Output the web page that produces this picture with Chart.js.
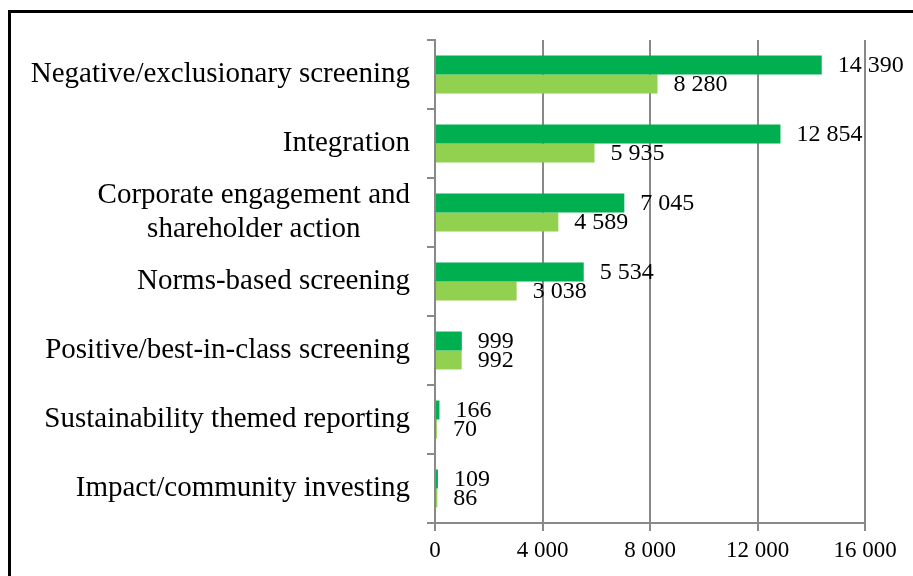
<!DOCTYPE html>
<html>
<head>
<meta charset="utf-8">
<script src="https://cdn.jsdelivr.net/npm/chart.js@4.4.1/dist/chart.umd.min.js"></script>
<style>
  html, body { margin: 0; padding: 0; background: #fff; overflow: hidden; }
  #frame {
    position: absolute; left: 8px; top: 10px;
    width: 1000px; height: 1000px;
    border: 3px solid #000;
    box-sizing: border-box;
  }
  #wrap { position: absolute; left: 0; top: 0; width: 913px; height: 576px; }
</style>
</head>
<body>
<div id="frame"></div>
<div id="wrap"><canvas id="chart" width="913" height="576"></canvas></div>
<script>
// kategoriler (yukaridan asagiya)
var categories = [
    'Negative/exclusionary screening',
    'Integration',
    ['Corporate engagement and', 'shareholder action'],
    'Norms-based screening',
    'Positive/best-in-class screening',
    'Sustainability themed reporting',
    'Impact/community investing'
];
var darkValues = [14390, 12854, 7045, 5534, 999, 166, 109];
var lightValues = [8280, 5935, 4589, 3038, 992, 70, 86];
var xTicks = [0, 4000, 8000, 12000, 16000];

var FONT = "'Liberation Serif', 'Times New Roman', serif";
var GRID = '#898989';

function fmt(v) {
    return String(v).replace(/\B(?=(\d{3})+(?!\d))/g, ' ');
}

// kategori etiketleri - cok satirli etiketler ortali
var catLabels = {
    id: 'catLabels',
    afterDraw: function(chart) {
        var ctx = chart.ctx;
        var scale = chart.scales.y;
        var rightEdge = chart.chartArea.left - 25;
        ctx.save();
        ctx.font = '29px ' + FONT;
        ctx.fillStyle = '#000';
        ctx.textBaseline = 'middle';
        ctx.textAlign = 'center';
        categories.forEach(function(label, i) {
            var lines = Array.isArray(label) ? label : [label];
            var w = 0;
            lines.forEach(function(l) { w = Math.max(w, ctx.measureText(l).width); });
            var cx = rightEdge - w / 2;
            var cy = scale.getPixelForTick(i);
            var lh = 34;
            lines.forEach(function(l, k) {
                ctx.fillText(l, cx, cy + (k - (lines.length - 1) / 2) * lh);
            });
        });
        ctx.restore();
    }
};

// veri etiketleri
var valueLabels = {
    id: 'valueLabels',
    afterDatasetsDraw: function(chart) {
        var ctx = chart.ctx;
        ctx.save();
        ctx.font = '24px ' + FONT;
        ctx.fillStyle = '#000';
        ctx.textAlign = 'left';
        ctx.textBaseline = 'middle';
        chart.data.datasets.forEach(function(ds, di) {
            chart.getDatasetMeta(di).data.forEach(function(el, i) {
                ctx.fillText(fmt(ds.data[i]), el.x + 16, el.y + 1);
            });
        });
        ctx.restore();
    }
};

new Chart(document.getElementById('chart'), {
    type: 'bar',
    data: {
        labels: categories,
        datasets: [
            {
                label: 'dark',
                data: darkValues,
                backgroundColor: '#00B050',
                borderWidth: 0,
                categoryPercentage: 0.55,
                barPercentage: 1
            },
            {
                label: 'light',
                data: lightValues,
                backgroundColor: '#92D050',
                borderWidth: 0,
                categoryPercentage: 0.55,
                barPercentage: 1
            }
        ]
    },
    options: {
        indexAxis: 'y',
        responsive: false,
        animation: false,
        layout: { padding: { left: 0, right: 48, top: 40, bottom: 0 } },
        scales: {
            x: {
                min: 0,
                max: 16000,
                afterBuildTicks: function(s) {
                    s.ticks = xTicks.map(function(v) { return { value: v }; });
                },
                afterFit: function(s) { s.height = 53; },
                grid: {
                    color: GRID,
                    lineWidth: 2,
                    tickLength: 8,
                    tickColor: GRID
                },
                border: { color: GRID, width: 2 },
                ticks: {
                    color: '#000',
                    font: { family: FONT, size: 23 },
                    padding: 6,
                    maxRotation: 0,
                    callback: function(v) { return fmt(v); }
                }
            },
            y: {
                afterFit: function(s) { s.width = 435; },
                grid: {
                    offset: true,
                    drawOnChartArea: false,
                    tickLength: 8,
                    color: GRID,
                    lineWidth: 2
                },
                border: { color: GRID, width: 2 },
                ticks: { display: false }
            }
        },
        plugins: {
            legend: { display: false },
            title: { display: false },
            tooltip: { enabled: false }
        }
    },
    plugins: [catLabels, valueLabels]
});
</script>
</body>
</html>
